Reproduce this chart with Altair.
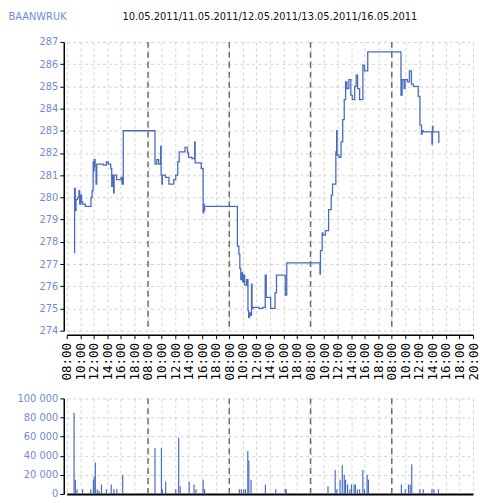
import altair as alt
import pandas as pd

ticker = "BAANWRUK"
session_dates = ["10.05.2011", "11.05.2011", "12.05.2011", "13.05.2011", "16.05.2011"]
# each trading session occupies a 12 h slot (08:00-20:00); hours counted from the first open
session_open_hours = [0, 12, 24, 36, 48]

price_hours = [
    1.13, 1.16, 1.26, 1.37, 1.59, 1.81, 1.91, 2.09, 2.19, 2.38, 2.74, 3.58, 3.75, 3.90,
    3.97, 4.04, 4.19, 4.33, 4.43, 4.98, 5.42, 5.85, 6.14, 6.50, 6.64, 6.79, 6.93, 7.00,
    7.36, 8.01, 8.16, 8.35,
    13.03, 13.29, 13.57, 13.86, 13.94, 14.05, 14.12, 14.58, 15.09, 15.81, 16.10, 16.39,
    16.61, 17.47, 17.83, 17.98, 18.48, 18.89, 18.96, 19.86, 20.14, 20.22, 20.29, 20.36,
    25.20, 25.42, 25.56, 25.70, 25.85, 25.99, 26.14, 26.28, 26.57, 26.76, 26.86, 27.00,
    27.15, 27.29, 27.36, 27.51, 28.38, 28.95, 29.31, 29.46, 30.11, 30.76, 30.97, 32.27,
    32.49,
    37.40, 37.47, 37.72, 37.83, 38.20, 38.67, 39.06, 39.25, 39.74, 39.86, 39.93, 40.22,
    40.51, 40.75, 40.98, 41.18, 41.37, 41.66, 41.95, 42.17, 42.53, 42.74, 42.96, 43.25,
    43.73, 43.97, 44.45,
    49.36, 49.53, 49.82, 49.96, 50.32, 50.61, 50.90, 51.19, 51.91, 52.16, 52.39, 52.49,
    52.64, 53.93, 54.01, 54.08, 54.90, 54.95,
]
price_values = [
    277.5, 280.4, 279.4, 279.9, 280.0, 280.3, 279.7, 280.1, 279.8, 279.7, 279.6, 280.0, 280.3, 281.6,
    281.2, 281.7, 281.4, 280.6, 281.5, 281.5, 281.45, 281.6, 281.5, 281.3, 280.5, 281.0, 280.2, 281.0,
    280.8, 280.9, 280.6, 283.0,
    281.5, 281.7, 281.5, 282.3, 281.0, 280.6, 281.0, 280.9, 280.6, 280.8, 281.0, 281.6,
    282.05, 282.25, 282.0, 281.8, 281.75, 282.5, 281.55, 281.3, 279.3, 279.7, 279.4, 279.6,
    277.8, 277.45, 276.8, 276.3, 276.6, 276.2, 276.5, 276.05, 276.3, 274.9, 274.6, 274.8,
    274.7, 276.1, 275.0, 275.05, 275.0, 275.05, 276.5, 275.5, 275.0, 275.7, 276.5, 275.6,
    277.05,
    276.55, 277.6, 278.4, 278.3, 278.5, 279.45, 280.1, 280.6, 282.05, 283.0, 281.9, 281.8,
    282.5, 283.5, 284.4, 285.2, 284.9, 285.3, 284.6, 284.4, 285.0, 285.5, 284.9, 284.4,
    285.95, 285.7, 286.55,
    284.6, 285.3, 284.9, 285.3, 285.2, 285.7, 285.1, 285.0, 284.55, 283.25, 282.85, 283.0,
    282.95, 282.4, 283.2, 282.95, 282.95, 282.45,
]

volume_hours = [
    1.08, 1.27, 1.52, 2.34, 3.54, 3.93, 4.04, 4.22, 4.51, 4.79, 5.13, 5.85, 6.57, 6.96, 7.39, 8.26,
    13.03, 13.98, 14.12, 14.61, 16.10, 16.53, 16.75, 18.08, 18.80, 19.09, 20.14, 20.36,
    25.49, 25.78, 26.14, 26.40, 26.74, 26.89, 27.22, 29.34, 30.87, 32.27, 32.42,
    38.58, 39.64, 39.88, 40.36, 40.69, 40.98, 41.18, 41.47, 41.81, 42.05, 42.43, 42.63,
    42.92, 43.25, 43.73, 43.97, 44.36, 44.55,
    49.42, 49.99, 50.47, 50.72, 50.95, 52.16, 52.64, 53.93, 54.22, 54.90,
]
volume_values = [
    85000, 15000, 5000, 5000, 5000, 15000, 18000, 33000, 5000, 3000, 10000, 5000, 10000, 5000, 5000, 20000,
    48000, 48000, 5000, 13000, 5000, 59000, 8000, 13000, 10000, 5000, 15000, 5000,
    5000, 5000, 5000, 5000, 45000, 35000, 15000, 10000, 5000, 5000, 5000,
    8000, 25000, 5000, 15000, 30000, 20000, 15000, 10000, 5000, 10000, 10000, 10000,
    5000, 5000, 25000, 5000, 20000, 15000,
    10000, 5000, 10000, 10000, 31000, 5000, 5000, 5000, 5000, 5000,
]

price_ticks = list(range(274, 288))
volume_ticks = [0, 20000, 40000, 60000, 80000, 100000]
time_ticks = list(range(0, 61, 2))

price_df = pd.DataFrame({"t": price_hours, "price": price_values})
vol_df = pd.DataFrame({"t": volume_hours, "vol": volume_values})
sep_df = pd.DataFrame({"t": session_open_hours[1:]})

NARROW = "DejaVu Sans Condensed, Liberation Sans, sans-serif"
BLUE_TXT = "#6f8bcf"
LINE = "#4a6cc0"
GRID = "#d2d2d2"

xscale = alt.Scale(domain=[0, 60], nice=False, zero=False)
time_label = ("datum.value == 60 ? '20:00' : "
              "((8 + datum.value % 12) < 10 ? '0' : '') + (8 + datum.value % 12) + ':00'")

x_top = alt.X(
    "t:Q", scale=xscale,
    axis=alt.Axis(
        values=time_ticks, labelExpr=time_label, labelAngle=270,
        labelFont="DejaVu Sans Mono", labelFontSize=12.5, labelColor="#000",
        labelPadding=4, labelFlush=False, labelOverlap=False, labelBound=False,
        tickSize=4, tickColor="#000", domainColor="#000", domainWidth=1.5,
        offset=4, grid=True, gridColor=GRID, gridDash=[3, 3], title=None,
    ),
)
y_top = alt.Y(
    "price:Q", scale=alt.Scale(domain=[274, 287], nice=False, zero=False),
    axis=alt.Axis(
        values=price_ticks, labelFont=NARROW, labelFontSize=11, labelColor=BLUE_TXT,
        labelPadding=2, tickSize=4, tickColor="#000", domainColor="#000", domainWidth=1.5,
        offset=3, grid=True, gridColor=GRID, gridDash=[3, 3],
        title=ticker, titleAngle=0, titleAlign="left", titleBaseline="middle",
        titleX=-56, titleY=-25, titleFont=NARROW, titleFontSize=11,
        titleFontWeight="normal", titleColor=BLUE_TXT,
    ),
)

upper = alt.layer(
    alt.Chart(sep_df).mark_rule(color="#6e6e6e", strokeDash=[6, 4], strokeWidth=1.5).encode(x=x_top),
    alt.Chart(price_df).mark_line(interpolate="step-after", color=LINE, strokeWidth=1.3).encode(x=x_top, y=y_top),
).properties(
    width=408, height=290,
    title=alt.TitleParams(
        "/".join(session_dates), font=NARROW, fontSize=11, fontWeight="normal",
        color="#111", anchor="middle", frame="group", offset=-11,
    ),
)

x_bot = alt.X(
    "t:Q", scale=xscale,
    axis=alt.Axis(
        values=time_ticks, labels=False, ticks=False, domainColor="#000", domainWidth=2,
        grid=True, gridColor=GRID, gridDash=[3, 3], title=None,
    ),
)
y_bot = alt.Y(
    "vol:Q", scale=alt.Scale(domain=[0, 100000], nice=False),
    axis=alt.Axis(
        values=volume_ticks,
        labelExpr="datum.value >= 1000 ? floor(datum.value / 1000) + ' 000' : '0'",
        labelFont=NARROW, labelFontSize=11, labelColor=BLUE_TXT, labelPadding=2,
        tickSize=4, tickColor="#000", domainColor="#000", domainWidth=1.5, offset=3,
        grid=True, gridColor=GRID, gridDash=[3, 3], title=None,
    ),
)

lower = alt.layer(
    alt.Chart(sep_df).mark_rule(color="#6e6e6e", strokeDash=[6, 4], strokeWidth=1.5).encode(x=x_bot),
    alt.Chart(vol_df).mark_rule(color=LINE, strokeWidth=1.2).encode(x=x_bot, y=y_bot, y2=alt.datum(0)),
).properties(width=408, height=96)

chart = alt.vconcat(upper, lower, spacing=12).properties(
    padding={"left": 0, "top": 2, "right": 0, "bottom": 0},
).configure_view(stroke=None)

chart.save("out.html", embed_options={"renderer": "svg", "actions": False})
